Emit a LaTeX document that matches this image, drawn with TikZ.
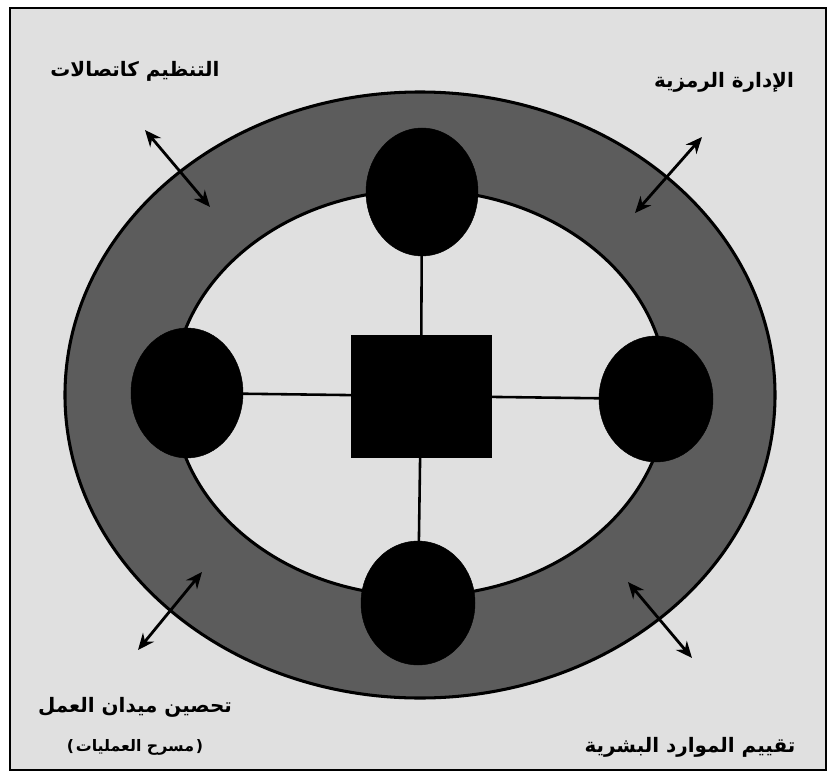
\documentclass[tikz,border=0pt]{standalone}
\usepackage{fontspec}
\usetikzlibrary{shapes.geometric,arrows.meta}
\TeXXeTstate=1
\newfontfamily\arabicfont[Script=Arabic]{DejaVu Sans}
\newfontfamily\parenfont{DejaVu Sans}
\definecolor{bgc}{gray}{0.88}
\definecolor{ringc}{gray}{0.36}
\begin{document}
\begin{tikzpicture}[x=0.03cm,y=-0.03cm,
  blob/.style={ellipse, fill=black, draw=black, inner sep=0pt},
  sqbox/.style={rectangle, fill=black, draw=black, inner sep=0pt},
  conn/.style={line width=2.2pt, black},
  arr/.style={line width=2.4pt, black, {Stealth[length=14pt,width=12pt]}-{Stealth[length=14pt,width=12pt]}},
  lab/.style={font=\arabicfont\bfseries\fontsize{17}{20}\selectfont, inner sep=0pt, text=black},
  labs/.style={font=\arabicfont\bfseries\fontsize{13.5}{16}\selectfont, inner sep=0pt, text=black},
  parn/.style={font=\parenfont\bfseries\fontsize{13.5}{16}\selectfont, inner sep=0pt, text=black}]
\useasboundingbox (0,0) rectangle (831,783);
\fill[white] (0,0) rectangle (831,783);
\draw[line width=2pt, fill=bgc] (10,8) rectangle (826,770);
% ring
\draw[line width=2.6pt, fill=ringc] (420,395) ellipse [x radius=10.65cm, y radius=9.09cm];
\draw[line width=2.6pt, fill=bgc] (420,393) ellipse [x radius=7.41cm, y radius=6.09cm];
% shapes
\node[blob, minimum width=3.36cm, minimum height=3.84cm] (top) at (422,192) {};
\node[blob, minimum width=3.36cm, minimum height=3.9cm] (left) at (187,393) {};
\node[blob, minimum width=3.42cm, minimum height=3.78cm] (right) at (656,399) {};
\node[blob, minimum width=3.42cm, minimum height=3.72cm] (bottom) at (418,603) {};
\node[sqbox, minimum width=4.2cm, minimum height=3.66cm] (sq) at (421,396) {};
% connectors
\draw[conn] (top) -- (sq);
\draw[conn] (sq) -- (bottom);
\draw[conn] (left) -- (sq);
\draw[conn] (sq) -- (right);
% arrows
\coordinate (tl1) at (145,130); \coordinate (tl2) at (210,207);
\coordinate (tr1) at (702,137); \coordinate (tr2) at (635,213);
\coordinate (bl1) at (202,572); \coordinate (bl2) at (138,650);
\coordinate (br1) at (628,582); \coordinate (br2) at (692,658);
\draw[arr] (tl1) -- (tl2);
\draw[arr] (tr1) -- (tr2);
\draw[arr] (bl1) -- (bl2);
\draw[arr] (br1) -- (br2);
% labels
\node[lab] (ltl) at (135,71) {\beginR التنظيم كاتصالات\endR};
\node[lab] (ltr) at (724,82) {\beginR الإدارة الرمزية\endR};
\node[lab] (lbl) at (135,707) {\beginR تحصين ميدان العمل\endR};
\node[labs] (lbl2) at (135,747) {\beginR مسرح العمليات\endR};
\node[parn, anchor=east] (pl) at ([xshift=-1pt]lbl2.west) {(};
\node[parn, anchor=west] (pr) at ([xshift=1pt]lbl2.east) {)};
\node[lab] (lbr) at (690,747) {\beginR تقييم الموارد البشرية\endR};
\end{tikzpicture}
\end{document}
